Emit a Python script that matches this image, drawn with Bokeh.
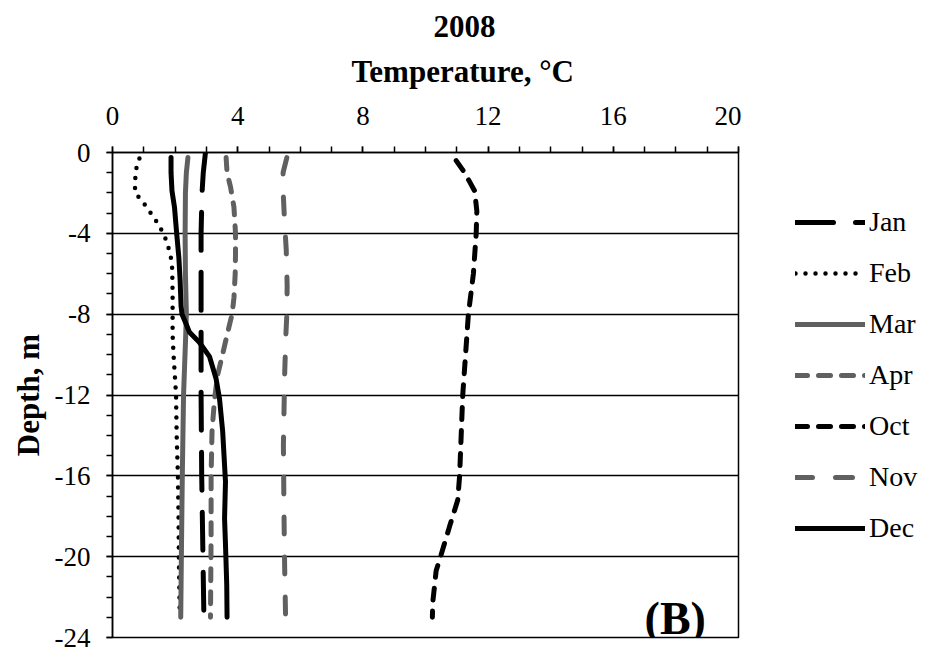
from bokeh.plotting import figure
from bokeh.layouts import row
from bokeh.models import (Range1d, SingleIntervalTicker, Legend, LegendItem, Label,
                          CustomJSTickFormatter, Title)
from bokeh.embed import file_html
from bokeh.resources import INLINE

# ---- data ----
jan_depth = [0, -1, -2, -4, -8, -12, -16, -20, -23]
jan_temp = [2.97, 2.90, 2.86, 2.83, 2.83, 2.83, 2.85, 2.89, 2.92]

feb_depth = [-0.3, -0.8, -1.4, -2.0, -2.4, -2.9, -3.4, -3.9, -4.4, -5.0, -5.5, -6, -7, -8, -9, -10, -12, -14, -16, -18, -20, -23]
feb_temp = [0.86, 0.76, 0.72, 0.72, 0.95, 1.18, 1.40, 1.59, 1.73, 1.84, 1.90, 1.91, 1.92, 1.92, 1.92, 1.95, 2.03, 2.05, 2.09, 2.11, 2.12, 2.15]

mar_depth = [-0.25, -1, -2, -4, -6, -8, -9, -12, -16, -20, -23]
mar_temp = [2.41, 2.36, 2.33, 2.32, 2.33, 2.36, 2.34, 2.27, 2.23, 2.20, 2.18]

apr_depth = [-0.25, -1, -1.7, -2.7, -4, -5, -6, -7.2, -8, -8.9, -9.9, -11, -12.2, -13.8, -16, -19, -23]
apr_temp = [3.63, 3.66, 3.77, 3.88, 3.93, 3.93, 3.92, 3.88, 3.82, 3.68, 3.53, 3.36, 3.26, 3.18, 3.15, 3.15, 3.13]

oct_depth = [-0.4, -1, -1.9, -2.9, -4, -6, -8, -10, -12, -14, -16, -17.2, -18.5, -19.9, -20.7, -22.3, -23]
oct_temp = [10.98, 11.25, 11.57, 11.64, 11.62, 11.53, 11.37, 11.28, 11.19, 11.14, 11.09, 11.03, 10.77, 10.50, 10.34, 10.23, 10.22]

nov_depth = [-0.25, -1, -2.2, -3.5, -4.8, -6.6, -8, -9, -11, -14.5, -18, -20.5, -23]
nov_temp = [5.57, 5.45, 5.46, 5.50, 5.55, 5.58, 5.57, 5.54, 5.50, 5.46, 5.48, 5.50, 5.53]

dec_depth = [-0.25, -1, -1.9, -2.7, -4, -5.2, -6.3, -7.6, -8, -8.4, -8.9, -9.4, -10.1, -11.2, -12.2, -13.8, -16.3, -18.1, -19.4, -21.4, -23]
dec_temp = [1.87, 1.87, 1.90, 1.98, 2.05, 2.12, 2.16, 2.19, 2.22, 2.33, 2.46, 2.78, 3.10, 3.31, 3.42, 3.52, 3.61, 3.58, 3.61, 3.65, 3.66]

months = ["Jan", "Feb", "Mar", "Apr", "Oct", "Nov", "Dec"]

FONT = "Liberation Serif"
GREY = "#606060"

# line styles per series (colour, width, dash)
styles = {
    "Jan": dict(line_color="black", line_width=5, line_dash="38 22", line_cap="round"),
    "Feb": dict(line_color="black", line_width=4.5, line_dash="0 10", line_cap="round"),
    "Mar": dict(line_color=GREY, line_width=5, line_cap="round"),
    "Apr": dict(line_color=GREY, line_width=5, line_dash="12 11", line_cap="round"),
    "Oct": dict(line_color="black", line_width=5, line_dash="12 11", line_cap="round"),
    "Nov": dict(line_color=GREY, line_width=5, line_dash="17 23", line_cap="round"),
    "Dec": dict(line_color="black", line_width=5, line_cap="round"),
}
series = {
    "Jan": (jan_temp, jan_depth), "Feb": (feb_temp, feb_depth), "Mar": (mar_temp, mar_depth),
    "Apr": (apr_temp, apr_depth), "Oct": (oct_temp, oct_depth), "Nov": (nov_temp, nov_depth),
    "Dec": (dec_temp, dec_depth),
}

p = figure(width=741, height=650, output_backend="svg", toolbar_location=None, title=None,
           x_axis_location="above", x_range=Range1d(0, 20), y_range=Range1d(-24, 0),
           min_border_left=112, min_border_right=3, min_border_top=152, min_border_bottom=13)

# two-line chart title, centred over the whole chart area (left-aligned with offsets)
t_sub = Title(text="Temperature, °C", align="left", offset=239, standoff=30,
              text_font=FONT, text_font_size="31px", text_font_style="bold", text_color="black")
t_main = Title(text="2008", align="left", offset=321, standoff=0,
               text_font=FONT, text_font_size="31px", text_font_style="bold", text_color="black")
p.add_layout(t_sub, "above")
p.add_layout(t_main, "above")

xa = p.xaxis[0]
xa.ticker = SingleIntervalTicker(interval=4, num_minor_ticks=4)
ya = p.yaxis[0]
ya.ticker = SingleIntervalTicker(interval=4, num_minor_ticks=4)
ya.formatter = CustomJSTickFormatter(code="return tick.toString();")
ya.axis_label = "Depth, m"
for ax in (xa, ya):
    ax.axis_label_text_font = FONT
    ax.axis_label_text_font_size = "31px"
    ax.axis_label_text_font_style = "bold"
    ax.axis_label_text_color = "black"
    ax.major_label_text_font = FONT
    ax.major_label_text_font_size = "27px"
    ax.major_label_text_color = "black"
    ax.axis_line_color = "black"
    ax.axis_line_width = 1.5
    ax.major_tick_line_color = "black"
    ax.minor_tick_line_color = "black"
    ax.major_tick_line_width = 1.5
    ax.minor_tick_line_width = 1.5
    ax.major_tick_in = 0
    ax.minor_tick_in = 0
    ax.major_tick_out = 6
    ax.minor_tick_out = 6
xa.major_label_standoff = 22
ya.major_label_standoff = 16
ya.axis_label_standoff = 6

p.xgrid.visible = False
p.ygrid.grid_line_color = "black"
p.ygrid.grid_line_width = 1.5
p.outline_line_color = "black"
p.outline_line_width = 1.5
p.outline_line_alpha = 1.0

for m in months:
    t, d = series[m]
    p.line(t, d, **styles[m])

p.add_layout(Label(x=17.0, y=-23.07, text="(B)", text_font=FONT, text_font_size="46px",
                   text_font_style="bold", text_baseline="alphabetic", text_align="left",
                   text_color="black"))

# legend panel to the right of the chart (same series, drawn outside its visible range)
pl = figure(width=188, height=650, output_backend="svg", toolbar_location=None,
            x_range=Range1d(100, 101), y_range=Range1d(100, 101), min_border=0)
pl.axis.visible = False
pl.grid.visible = False
pl.outline_line_color = None
items = []
for m in months:
    t, d = series[m]
    r = pl.line(t, d, **styles[m])
    items.append(LegendItem(label=m, renderers=[r]))
legend = Legend(items=items, location=(54, 93), glyph_width=70, glyph_height=30, label_height=30,
                spacing=19, label_standoff=4, padding=0, margin=0,
                label_text_font=FONT, label_text_font_size="28px", label_text_color="black",
                border_line_alpha=0, background_fill_alpha=0)
pl.add_layout(legend)

layout = row(p, pl, spacing=0)
open("out.html", "w").write(file_html(layout, INLINE))
